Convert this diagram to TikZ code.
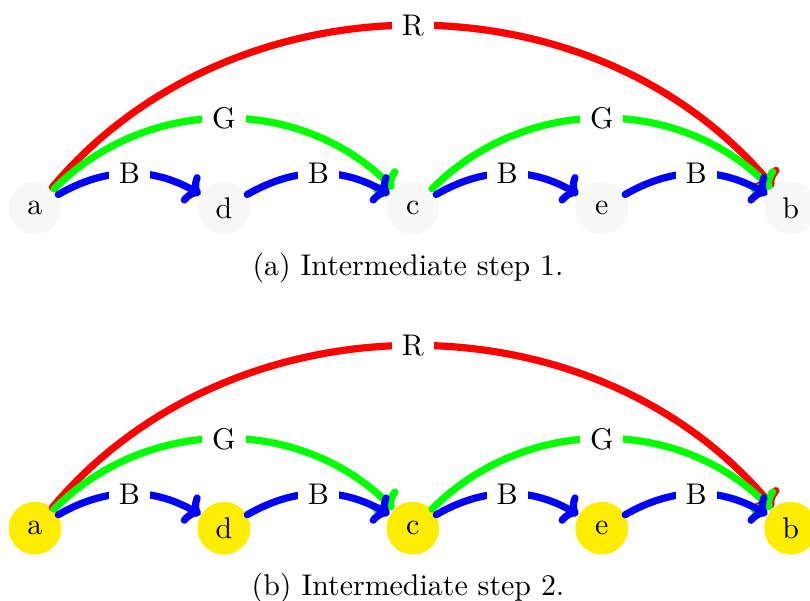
\documentclass[tikz,border=0pt]{standalone}
\usepackage{amsmath,amssymb}
\usepackage{tikz}
\usetikzlibrary{arrows.meta}
\usepackage{xcolor}
\definecolor{vtxgray}{RGB}{248,248,248}
\definecolor{vtxyellow}{RGB}{255,237,0}

\begin{document}
\begin{tikzpicture}[
        vtx/.style={circle, inner sep=0pt, minimum size=0.62cm},
        edge/.style={line width=2.4pt, line cap=round, -{To[length=5pt,width=11pt,round]}},
        lbl/.style={fill=white, text=black}]
        \useasboundingbox (-0.411,-4.618) rectangle (9.107,2.444);
        \begin{scope}
            \node[vtx, fill=vtxgray] (a) at (0,0) {a};
            \node[vtx, fill=vtxgray] (d) at (2.22,0) {d};
            \node[vtx, fill=vtxgray] (c) at (4.44,0) {c};
            \node[vtx, fill=vtxgray] (e) at (6.66,0) {e};
            \node[vtx, fill=vtxgray] (b) at (8.88,0) {b};
            \draw[edge, red] (a) to[bend left=50] node[lbl] {R} (b);
            \draw[edge, green] (a) to[bend left=45] node[lbl] {G} (c);
            \draw[edge, green] (c) to[bend left=45] node[lbl] {G} (b);
            \draw[edge, blue] (a) to[bend left=30] node[lbl] {B} (d);
            \draw[edge, blue] (d) to[bend left=30] node[lbl] {B} (c);
            \draw[edge, blue] (c) to[bend left=30] node[lbl] {B} (e);
            \draw[edge, blue] (e) to[bend left=30] node[lbl] {B} (b);
            \node (capa) at (4.383,-0.705) {(a) Intermediate step 1.};
        \end{scope}
        \begin{scope}[yshift=-3.763cm]
            \node[vtx, fill=vtxyellow] (aa) at (0,0) {a};
            \node[vtx, fill=vtxyellow] (dd) at (2.22,0) {d};
            \node[vtx, fill=vtxyellow] (cc) at (4.44,0) {c};
            \node[vtx, fill=vtxyellow] (ee) at (6.66,0) {e};
            \node[vtx, fill=vtxyellow] (bb) at (8.88,0) {b};
            \draw[edge, red] (aa) to[bend left=50] node[lbl] {R} (bb);
            \draw[edge, green] (aa) to[bend left=45] node[lbl] {G} (cc);
            \draw[edge, green] (cc) to[bend left=45] node[lbl] {G} (bb);
            \draw[edge, blue] (aa) to[bend left=30] node[lbl] {B} (dd);
            \draw[edge, blue] (dd) to[bend left=30] node[lbl] {B} (cc);
            \draw[edge, blue] (cc) to[bend left=30] node[lbl] {B} (ee);
            \draw[edge, blue] (ee) to[bend left=30] node[lbl] {B} (bb);
            \node (capb) at (4.383,-0.705) {(b) Intermediate step 2.};
        \end{scope}
    \end{tikzpicture}
\end{document}
